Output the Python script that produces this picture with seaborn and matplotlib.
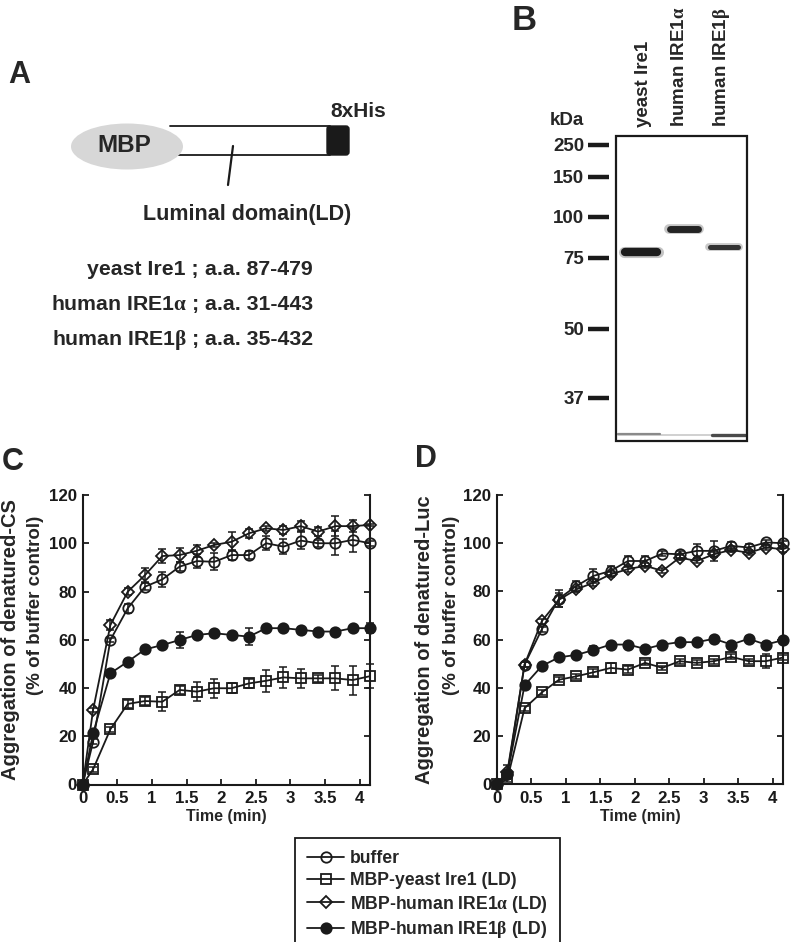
import numpy as np
import pandas as pd
import seaborn as sns
import matplotlib.pyplot as plt
from matplotlib.lines import Line2D
from matplotlib.patches import Ellipse, FancyBboxPatch, Rectangle

# ---- data ----
time_min = [0, 0.15, 0.4, 0.65, 0.9, 1.15, 1.4, 1.65, 1.9, 2.15, 2.4, 2.65, 2.9, 3.15, 3.4, 3.65, 3.9, 4.15]

# panel C: denatured citrate synthase
cs_buffer = [0, 17.7, 59.9, 73.0, 82.0, 85.0, 90.3, 92.6, 92.3, 95.1, 95.1, 100.0, 98.6, 101.1, 100.0, 100.0, 101.4, 100.0]
cs_buffer_err = [0, 1, 1, 2, 1.5, 3, 2, 3, 3.5, 2, 1.5, 3, 3, 3.5, 1.5, 5, 5, 1]
cs_yeast = [0, 6.3, 22.9, 33.4, 34.6, 34.3, 39.2, 38.5, 39.9, 39.9, 41.9, 43.0, 44.4, 44.0, 44.0, 44.0, 43.3, 44.9]
cs_yeast_err = [0, 1, 1, 1.5, 1.5, 4, 1.5, 4, 4, 2, 2, 4.5, 4.5, 4, 1.5, 5, 6, 5]
cs_alpha = [0, 30.9, 66.1, 79.9, 86.8, 94.7, 95.1, 96.9, 99.3, 100.6, 104.1, 106.2, 105.5, 107.1, 104.8, 107.1, 107.1, 107.6]
cs_alpha_err = [0, 1, 2, 1.5, 3, 3, 3, 2.5, 1, 4, 2, 1, 1.5, 2, 2, 4, 2.5, 0.5]
cs_beta = [0, 21.2, 46.1, 50.9, 56.0, 57.8, 59.9, 62.0, 62.7, 62.0, 61.3, 64.8, 64.8, 64.1, 63.4, 63.4, 64.8, 64.8]
cs_beta_err = [0, 1, 1, 1, 1, 1, 3.5, 1, 1, 1, 3.5, 1, 1, 1, 1, 1, 1, 2]

# panel D: denatured luciferase
luc_buffer = [0, 4, 49.6, 64.2, 77.0, 82.2, 86.4, 88.5, 92.6, 92.6, 95.7, 95.4, 96.8, 96.8, 98.9, 98.2, 100.3, 100.0]
luc_buffer_err = [0, 2, 1, 1, 3.5, 2, 3, 2, 2, 2, 1, 1.5, 3, 4, 1.5, 1.5, 1, 1]
luc_yeast = [0, 2, 31.5, 38.0, 43.3, 44.7, 46.4, 48.2, 47.5, 50.3, 48.2, 51.0, 50.3, 51.0, 52.8, 51.0, 51.0, 52.5]
luc_yeast_err = [0, 1, 1, 1, 1, 1, 1.5, 2, 1.5, 1, 1, 1, 1, 1, 1, 1, 3, 1]
luc_alpha = [0, 5, 49.6, 67.6, 76.5, 80.8, 83.6, 87.1, 89.2, 90.6, 88.5, 94.0, 92.6, 95.4, 97.2, 96.0, 98.2, 97.5]
luc_alpha_err = [0, 3, 1, 1, 3, 1, 1.5, 1, 1, 1, 1, 1, 1, 1, 1, 1, 1, 1]
luc_beta = [0, 4, 41.0, 49.0, 52.6, 53.6, 55.6, 57.9, 57.9, 56.1, 57.9, 58.9, 58.9, 60.3, 57.9, 60.3, 57.9, 59.7]
luc_beta_err = [0, 2, 1, 1, 1, 1, 1.5, 1, 1, 1, 1, 1, 1, 1, 1, 1, 1, 1]

series_keys = ["buffer", "yeast", "alpha", "beta"]
series_labels = ["buffer", "MBP-yeast Ire1 (LD)",
                 r"MBP-human IRE1$\mathrm{\alpha}$ (LD)",
                 r"MBP-human IRE1$\mathrm{\beta}$ (LD)"]
x_tick_labels = ["0", "0.5", "1", "1.5", "2", "2.5", "3", "3.5", "4"]

# gel (panel B)
ladder_kda = [250, 150, 100, 75, 50, 37]
lane_names = ["yeast Ire1", r"human IRE1$\mathrm{\alpha}$", r"human IRE1$\mathrm{\beta}$"]
band_kda = [78, 92, 81]

construct_lines = [("yeast Ire1 ;", "a.a. 87-479"),
                   (r"human IRE1$\mathrm{\alpha}$ ;", "a.a. 31-443"),
                   (r"human IRE1$\mathrm{\beta}$ ;", "a.a. 35-432")]

# ---- style ----
sns.set_theme(style="ticks")
plt.rcParams["font.family"] = ["Liberation Sans", "DejaVu Sans"]
plt.rcParams["font.weight"] = "bold"
plt.rcParams["mathtext.fontset"] = "custom"
plt.rcParams["mathtext.rm"] = "Liberation Serif"
plt.rcParams["mathtext.default"] = "rm"

W, H = 791, 942
fig = plt.figure(figsize=(W / 100, H / 100), dpi=100)

def px_axes(l, t, r, b):
    return fig.add_axes([l / W, 1 - b / H, (r - l) / W, (b - t) / H])

# overlay in pixel coords for panels A and B
ov = fig.add_axes([0, 0, 1, 1])
ov.set_xlim(0, W)
ov.set_ylim(H, 0)
ov.axis("off")

# ---- panel letters ----
for lab, x, y, fs in [("A", 8, 83, 22), ("B", 512, 30, 25), ("C", 2, 470, 22), ("D", 415, 467, 22)]:
    ov.text(x, y, lab, fontsize=fs, fontweight="bold", ha="left", va="baseline")

# ---- panel A: construct diagram ----
ov.add_patch(Rectangle((165, 126), 165, 29, fc="white", ec="none", zorder=2))
ov.plot([170, 330], [126, 126], color="k", lw=1.3, zorder=2.5)
ov.plot([176, 330], [155, 155], color="k", lw=1.3, zorder=2.5)
ov.add_patch(FancyBboxPatch((327, 126), 22, 29, boxstyle="round,pad=0,rounding_size=3",
                            fc="k", ec="k", lw=1.0, zorder=3))
ov.add_patch(Ellipse((127, 146.5), 112, 46, fc="#d7d7d7", ec="none", zorder=4))
ov.text(124, 152, "MBP", fontsize=17.5, ha="center", va="baseline", zorder=5)
ov.text(330, 117, "8xHis", fontsize=15, ha="left", va="baseline")
ov.plot([233, 228], [146, 185], color="k", lw=1.6)
ov.text(247, 220, "Luminal domain(LD)", fontsize=15.5, ha="center", va="baseline")
for i, (left, right) in enumerate(construct_lines):
    yb = 275 + 35 * i
    ov.text(199, yb, left, fontsize=15.3, ha="right", va="baseline")
    ov.text(205, yb, right, fontsize=15.3, ha="left", va="baseline")

# ---- panel B: gel ----
ladder_y = [145, 177, 217, 258, 329, 398]
ov.add_patch(Rectangle((616, 136), 131, 305, fill=False, ec="k", lw=1.6, zorder=3))
ov.text(550, 125, "kDa", fontsize=13.5, ha="left", va="baseline")
for kda, yy in zip(ladder_kda, ladder_y):
    ov.plot([588, 609], [yy, yy], color="k", lw=3.2, solid_capstyle="butt")
    ov.text(584, yy + 6, str(kda), fontsize=13.5, ha="right", va="baseline")
lane_x = [641, 684, 724]
lane_half = [19, 17, 17]
band_lw = [6.0, 5.0, 3.6]
band_col = ["#151515", "#1c1c1c", "#2a2a2a"]
log_ladder = np.log(ladder_kda[::-1])
band_y = np.interp(np.log(band_kda), log_ladder, ladder_y[::-1])
for xc, hw, by, lw, c in zip(lane_x, lane_half, band_y, band_lw, band_col):
    ov.plot([xc - hw + 3, xc + hw - 3], [by, by], color=c, lw=lw, solid_capstyle="round", alpha=0.95)
    ov.plot([xc - hw + 2, xc + hw - 2], [by, by], color=c, lw=lw + 2, solid_capstyle="round", alpha=0.25)
# dye front
ov.plot([618, 745], [434.5, 434.5], color="#c8c8c8", lw=1.2)
ov.plot([618, 660], [434, 434], color="#8a8a8a", lw=1.6)
ov.plot([712, 745], [435, 435], color="#4a4a4a", lw=2.4)
for xc, name in zip([643, 680, 722], lane_names):
    ov.text(xc, 127, name, fontsize=13.5, rotation=90, ha="center", va="bottom")

# ---- panels C and D ----
rows = []
panel_data = {
    "C": [(cs_buffer, cs_buffer_err), (cs_yeast, cs_yeast_err), (cs_alpha, cs_alpha_err), (cs_beta, cs_beta_err)],
    "D": [(luc_buffer, luc_buffer_err), (luc_yeast, luc_yeast_err), (luc_alpha, luc_alpha_err), (luc_beta, luc_beta_err)],
}
for panel, lst in panel_data.items():
    for key, (vals, errs) in zip(series_keys, lst):
        for t, v, e in zip(time_min, vals, errs):
            rows.append({"panel": panel, "series": key, "time": t, "value": v, "err": e})
df = pd.DataFrame(rows)

styles = {
    "buffer": dict(marker="o", markersize=7.5, markerfacecolor="none"),
    "yeast": dict(marker="s", markersize=7, markerfacecolor="none"),
    "alpha": dict(marker="D", markersize=6, markerfacecolor="none"),
    "beta": dict(marker="o", markersize=7.5, markerfacecolor="k"),
}

axC = px_axes(82.7, 495, 370, 784.5)
axD = px_axes(497, 495, 783, 784)

for ax, panel in [(axC, "C"), (axD, "D")]:
    for key in series_keys:
        sub = df[(df.panel == panel) & (df.series == key)]
        ax.errorbar(sub.time, sub.value, yerr=sub.err, fmt="none", ecolor="k",
                    elinewidth=1.1, capsize=2.6, capthick=1.1, zorder=2, clip_on=False)
        sns.lineplot(data=sub, x="time", y="value", ax=ax, color="k", linewidth=1.3,
                     markeredgecolor="k", markeredgewidth=1.3, estimator=None,
                     errorbar=None, legend=False, clip_on=False, zorder=3, **styles[key])
    ax.set_xlim(0, 4.15)
    ax.set_ylim(0, 120)
    ax.set_xticks(np.arange(0, 4.01, 0.5))
    ax.set_xticklabels(x_tick_labels)
    ax.set_yticks(np.arange(0, 121, 20))
    ax.set_xlabel("")
    ax.set_ylabel("")
    ax.spines["top"].set_visible(False)
    for s in ("left", "right", "bottom"):
        ax.spines[s].set_visible(True)
        ax.spines[s].set_linewidth(1.5)
        ax.spines[s].set_color("k")
    ax.tick_params(axis="both", direction="in", length=4.5, width=1.3, colors="k",
                   labelsize=12.2, pad=4)
    ax.tick_params(axis="y", right=True, left=True)
    ax.tick_params(axis="x", pad=5)
    for t in ax.get_xticklabels() + ax.get_yticklabels():
        t.set_fontweight("bold")
    ax.patch.set_alpha(0)

# axis titles
for xm, xs, name in [(11, 36, "Aggregation of denatured-CS"), (425, 452, "Aggregation of denatured-Luc")]:
    ov.text(xm, 640, name, fontsize=14.5, rotation=90, ha="center", va="center")
    ov.text(xs, 605, "(% of buffer control)", fontsize=13.5, rotation=90, ha="center", va="center")
ov.text(226, 817, "Time (min)", fontsize=11.5, ha="center", va="center")
ov.text(640, 817, "Time (min)", fontsize=11.5, ha="center", va="center")

# legend
handles = [Line2D([], [], color="k", linewidth=1.3, markeredgecolor="k", markeredgewidth=1.3,
                  **styles[k]) for k in series_keys]
leg = fig.legend(handles, series_labels, loc="upper left", bbox_to_anchor=(295 / W, 1 - 838 / H),
                 frameon=True, fancybox=False, edgecolor="k", framealpha=1, fontsize=12.7,
                 handlelength=2.1, handletextpad=0.3, labelspacing=0.26, borderpad=0.7,
                 borderaxespad=0)
leg.get_frame().set_linewidth(1.3)
for t in leg.get_texts():
    t.set_fontweight("bold")

fig.savefig("out.png", dpi=100)
